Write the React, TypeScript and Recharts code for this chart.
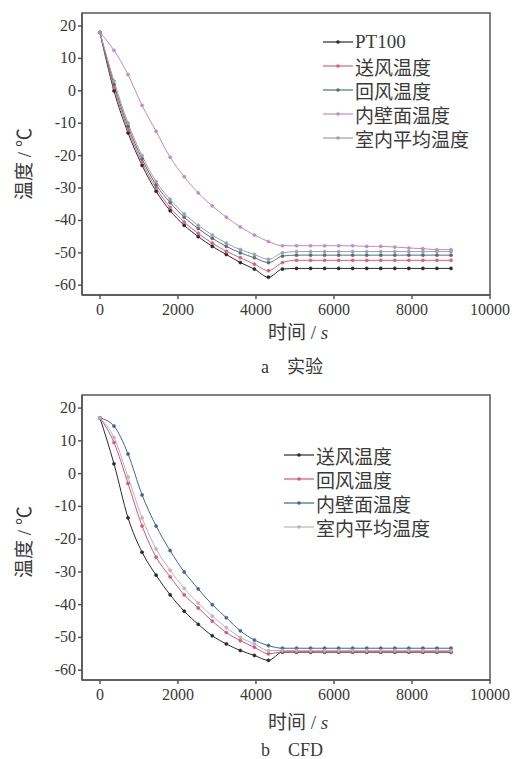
import React from 'react';
import { LineChart, Line, XAxis, YAxis, ReferenceArea } from 'recharts';

// time in s, one sample every 360 s
const times = [0, 360, 720, 1080, 1440, 1800, 2160, 2520, 2880, 3240, 3600, 3960, 4320, 4680, 5040, 5400, 5760, 6120, 6480, 6840, 7200, 7560, 7920, 8280, 8640, 9000];
const xTicks = [0, 2000, 4000, 6000, 8000, 10000];
const yTicks = [-60, -50, -40, -30, -20, -10, 0, 10, 20];

// a 实验
const expPt100 = [18, 0, -13, -23, -31, -37, -41.5, -45, -48, -50.5, -53, -55, -57.5, -55, -54.8, -54.8, -54.8, -54.8, -54.8, -54.8, -54.8, -54.8, -54.8, -54.8, -54.8, -54.8];
const expSupply = [18, 1, -12, -22, -30, -36, -40.5, -44, -47, -49.5, -51.5, -53.5, -55.5, -53, -52.3, -52.3, -52.3, -52.3, -52.3, -52.3, -52.3, -52.3, -52.3, -52.3, -52.3, -52.3];
const expReturn = [18, 2, -11, -21, -29, -34.5, -39, -42.5, -45.5, -48, -50, -51.5, -53, -51, -50.7, -50.7, -50.7, -50.7, -50.7, -50.7, -50.7, -50.7, -50.7, -50.7, -50.7, -50.7];
const expWall = [18, 12.5, 5, -4.5, -12.5, -20.5, -26.5, -31.5, -35.5, -39, -42, -44.5, -46.5, -47.8, -47.8, -47.8, -47.8, -47.8, -47.8, -48, -48, -48.2, -48.5, -48.7, -49, -49];
const expAvg = [18, 3, -10, -20, -28, -33.5, -38, -41.5, -44.5, -47, -49, -50.5, -52, -50, -49.6, -49.6, -49.6, -49.6, -49.6, -49.6, -49.6, -49.6, -49.6, -49.6, -49.6, -49.6];

// b CFD
const cfdSupply = [17, 3, -13.5, -24, -31, -37, -42, -46, -49.5, -52, -54, -55.5, -57, -54.5, -54.5, -54.5, -54.5, -54.5, -54.5, -54.5, -54.5, -54.5, -54.5, -54.5, -54.5, -54.5];
const cfdReturn = [17, 9.5, -3, -16, -25.5, -31.5, -37, -41, -45, -48.5, -51, -53, -55, -54.4, -54.4, -54.4, -54.4, -54.4, -54.4, -54.4, -54.4, -54.4, -54.4, -54.4, -54.4, -54.4];
const cfdWall = [17, 14.5, 6, -6.5, -16, -23.5, -30, -35.2, -40, -44, -48, -50.8, -52.5, -53.3, -53.3, -53.3, -53.3, -53.3, -53.3, -53.3, -53.3, -53.3, -53.3, -53.3, -53.3, -53.3];
const cfdAvg = [17, 11, -1, -13.5, -23, -29.5, -35, -39.5, -43.5, -47, -50, -52, -54, -54, -54, -54, -54, -54, -54, -54, -54, -54, -54, -54, -54, -54];

const expSeries = [
  { key: 'pt100', name: 'PT100', values: expPt100, color: '#2b2b2b' },
  { key: 'supply', name: '送风温度', values: expSupply, color: '#e06070' },
  { key: 'ret', name: '回风温度', values: expReturn, color: '#4d6f8a' },
  { key: 'wall', name: '内壁面温度', values: expWall, color: '#c58ac0' },
  { key: 'avg', name: '室内平均温度', values: expAvg, color: '#a0a0a0' },
];

const cfdSeries = [
  { key: 'supply', name: '送风温度', values: cfdSupply, color: '#2b2b2b' },
  { key: 'ret', name: '回风温度', values: cfdReturn, color: '#e2507e' },
  { key: 'wall', name: '内壁面温度', values: cfdWall, color: '#41639c' },
  { key: 'avg', name: '室内平均温度', values: cfdAvg, color: '#b4b8b0' },
];

const font = "'Liberation Serif', 'Noto Sans CJK SC', serif";
const textColor = '#3a3a3a';

type Series = { key: string; name: string; values: number[]; color: string };

const buildRows = (series: Series[]) =>
  times.map((t, i) => {
    const row: Record<string, number> = { t };
    series.forEach((s) => {
      row[s.key] = s.values[i];
    });
    return row;
  });

const LegendBox = ({ series, left, top }: { series: Series[]; left: number; top: number }) => (
  <div style={{ position: 'absolute', left, top, fontFamily: font, color: textColor }}>
    {series.map((s) => (
      <div key={s.key} style={{ display: 'flex', alignItems: 'center', height: 24, fontSize: 19 }}>
        <svg width={30} height={10} style={{ marginRight: 2 }}>
          <line x1={0} y1={5} x2={30} y2={5} stroke={s.color} strokeWidth={1.2} />
          <circle cx={15} cy={5} r={1.8} fill={s.color} />
        </svg>
        <span>{s.name}</span>
      </div>
    ))}
  </div>
);

const XTick = (props: any) => {
  const { x, y, payload } = props;
  return (
    <text x={x} y={y + 14} textAnchor="middle" fontFamily={font} fontSize={16} fill={textColor}>
      {payload.value}
    </text>
  );
};

const YTick = (props: any) => {
  const { x, y, payload } = props;
  return (
    <text x={x} y={y + 5} textAnchor="end" fontFamily={font} fontSize={16} fill={textColor}>
      {payload.value}
    </text>
  );
};

interface PanelProps {
  series: Series[];
  top: number;
  height: number;
  marginTop: number;
  marginBottom: number;
  legendLeft: number;
  legendTop: number;
  yLabelTop: number;
  xLabelTop: number;
  caption: string;
  captionTop: number;
}

const Panel: React.FC<PanelProps> = ({
  series, top, height, marginTop, marginBottom, legendLeft, legendTop, yLabelTop, xLabelTop, caption, captionTop,
}) => {
  const data = buildRows(series);
  return (
    <div style={{ position: 'absolute', left: 0, top, width: 532, height, fontFamily: font }}>
      <LineChart width={532} height={height} data={data} margin={{ top: marginTop, right: 42, bottom: marginBottom, left: 0 }}>
        <XAxis
          dataKey="t"
          type="number"
          domain={[-460, 10000]}
          ticks={xTicks}
          allowDataOverflow
          tick={<XTick />}
          tickSize={4}
          height={45}
          stroke="#555"
          strokeWidth={1.5}
        />
        <YAxis
          type="number"
          domain={[-63, 24]}
          ticks={yTicks}
          allowDataOverflow
          tick={<YTick />}
          tickSize={4}
          width={82}
          stroke="#555"
          strokeWidth={1.5}
        />
        <ReferenceArea x1={-460} x2={10000} y1={-63} y2={24} fill="none" stroke="#555" strokeWidth={1.5} />
        {series.map((s) => (
          <Line
            key={s.key}
            dataKey={s.key}
            name={s.name}
            type="monotone"
            stroke={s.color}
            strokeWidth={1}
            dot={{ r: 1.6, fill: s.color, stroke: s.color, strokeWidth: 0.5 }}
            isAnimationActive={false}
          />
        ))}
      </LineChart>
      <LegendBox series={series} left={legendLeft} top={legendTop} />
      <div
        style={{
          position: 'absolute', left: 22, top: yLabelTop, transform: 'translate(-50%, -50%) rotate(-90deg)',
          fontSize: 19, color: textColor, whiteSpace: 'nowrap',
        }}
      >
        温度 / ℃
      </div>
      <div
        style={{
          position: 'absolute', left: 298, top: xLabelTop, transform: 'translate(-50%, -50%)',
          fontSize: 19, color: textColor, whiteSpace: 'nowrap',
        }}
      >
        时间 / <i>s</i>
      </div>
      <div
        style={{
          position: 'absolute', left: 292, top: captionTop, transform: 'translate(-50%, -50%)',
          fontSize: 18, color: textColor, whiteSpace: 'nowrap',
        }}
      >
        {caption}
      </div>
    </div>
  );
};

export default function App() {
  return (
    <div style={{ position: 'absolute', left: 0, top: 0, width: 532, height: 759, background: '#fff' }}>
      <Panel
        series={expSeries}
        top={0}
        height={380}
        marginTop={13}
        marginBottom={40}
        legendLeft={323}
        legendTop={30}
        yLabelTop={164}
        xLabelTop={330}
        caption="a　实验"
        captionTop={365}
      />
      <Panel
        series={cfdSeries}
        top={380}
        height={379}
        marginTop={15}
        marginBottom={34}
        legendLeft={284}
        legendTop={63}
        yLabelTop={162}
        xLabelTop={340}
        caption="b　CFD"
        captionTop={368}
      />
    </div>
  );
}
